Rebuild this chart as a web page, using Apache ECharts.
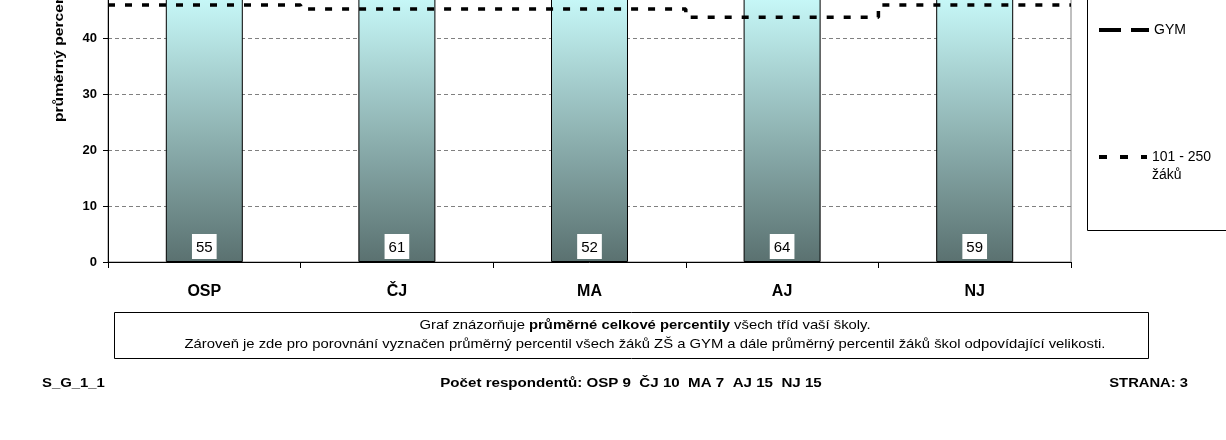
<!DOCTYPE html>
<html>
<head>
<meta charset="utf-8">
<script src="https://cdn.jsdelivr.net/npm/echarts@6/dist/echarts.min.js"></script>
<style>
html,body{margin:0;padding:0;background:#fff;}
#chart{width:1226px;height:440px;}
</style>
</head>
<body>
<div id="chart"></div>
<script>
// ---- data ----
var categories = ['OSP', 'ČJ', 'MA', 'AJ', 'NJ'];
var schoolValues = [55, 61, 52, 64, 59];
var sizeGroupValues = [45.9, 45.2, 45.2, 43.7, 45.9];
var gymValues = [null, null, null, null, null];
var yTicks = {min: 0, max: 100, interval: 10};
var sizeGroupName = '101 - 250 žáků';
var gymName = 'GYM';
var axisTitle = 'průměrný percentil';
var noteLine1Plain = 'Graf znázorňuje ';
var noteLine1Bold = 'průměrné celkové percentily';
var noteLine1End = ' všech tříd vaší školy.';
var noteLine2 = 'Zároveň je zde pro porovnání vyznačen průměrný percentil všech žáků ZŠ a GYM a dále průměrný percentil žáků škol odpovídající velikosti.';
var footerLeft = 'S_G_1_1';
var footerCenter = 'Počet respondentů: OSP 9  ČJ 10  MA 7  AJ 15  NJ 15';
var footerRight = 'STRANA: 3';

function stepData(vals) {
  var out = [];
  for (var i = 0; i < vals.length; i++) {
    out.push([i, vals[i]]);
    out.push([i + 1, vals[i]]);
  }
  return out;
}

var FONT = 'Arial, "Liberation Sans", sans-serif';
var chart = echarts.init(document.getElementById('chart'), null, {renderer: 'canvas'});

var option = {
  animation: false,
  backgroundColor: '#ffffff',
  grid: {
    left: 108, right: 155, top: -298, bottom: 178,
    outerBoundsMode: 'none', containLabel: false,
    show: true, borderColor: '#808080', borderWidth: 1, backgroundColor: 'transparent'
  },
  xAxis: [{
    type: 'category',
    data: categories,
    axisLine: {lineStyle: {color: '#000', width: 1}},
    axisTick: {show: true, length: 6, lineStyle: {color: '#000'}},
    axisLabel: {color: '#000', fontWeight: 'bold', fontSize: 16, fontFamily: FONT, margin: 22},
    splitLine: {show: false}
  }, {
    type: 'value', min: 0, max: categories.length, show: false
  }],
  yAxis: {
    type: 'value',
    min: yTicks.min, max: yTicks.max, interval: yTicks.interval,
    axisLine: {show: true, lineStyle: {color: '#000', width: 1}},
    axisTick: {show: true, length: 5, lineStyle: {color: '#000'}},
    axisLabel: {color: '#000', fontWeight: 'bold', fontSize: 13, fontFamily: FONT, margin: 11},
    splitLine: {show: true, lineStyle: {color: '#808080', type: [4, 3], width: 1}}
  },
  legend: [{
    data: [gymName],
    left: 1097, top: 23, padding: 0,
    itemWidth: 50, itemHeight: 16,
    itemStyle: {color: 'transparent', borderWidth: 0},
    lineStyle: {width: 4, type: [22, 10], color: '#000'},
    textStyle: {color: '#000', fontSize: 14, fontFamily: FONT}
  }, {
    data: [sizeGroupName],
    left: 1097, top: 130, padding: 0,
    itemWidth: 48, itemHeight: 14,
    itemStyle: {color: 'transparent', borderWidth: 0},
    lineStyle: {width: 4, type: [8, 13], color: '#000'},
    formatter: function () { return ' \n101 - 250\nžáků'; },
    textStyle: {color: '#000', fontSize: 14, fontFamily: FONT, lineHeight: 18}
  }],
  series: [{
    type: 'bar',
    name: 'škola',
    data: schoolValues,
    barWidth: 77,
    itemStyle: {
      borderColor: '#000', borderWidth: 1,
      color: new echarts.graphic.LinearGradient(0, 0, 0, 262, [
        {offset: 0, color: '#c6f7f7'},
        {offset: 1, color: '#5a7170'}
      ], true)
    },
    label: {
      show: true, position: 'insideBottom', distance: 3,
      backgroundColor: '#fff', padding: [6, 4, 4, 4],
      color: '#000', fontSize: 15, fontFamily: FONT
    },
    z: 2
  }, {
    type: 'line',
    name: gymName,
    xAxisIndex: 1,
    data: stepData(gymValues),
    symbol: 'none',
    lineStyle: {color: '#000', width: 4, type: [22, 10]},
    itemStyle: {color: '#000'},
    z: 5
  }, {
    type: 'line',
    name: sizeGroupName,
    xAxisIndex: 1,
    data: stepData(sizeGroupValues),
    symbol: 'none',
    lineStyle: {color: '#000', width: 3.5, type: [7, 10]},
    itemStyle: {color: '#000'},
    z: 5
  }],
  graphic: [{
    type: 'text',
    x: 59, y: 122, rotation: Math.PI / 2, scaleX: 1.2,
    style: {text: axisTitle, font: 'bold 13px ' + FONT, fill: '#000', textAlign: 'left', textVerticalAlign: 'middle'}
  }, {
    type: 'rect',
    shape: {x: 1087.5, y: -5, width: 200, height: 235.5},
    style: {fill: 'none', stroke: '#000', lineWidth: 1}
  }, {
    type: 'rect',
    shape: {x: 114.5, y: 312.5, width: 1034, height: 46},
    style: {fill: 'none', stroke: '#000', lineWidth: 1}
  }, {
    type: 'text',
    x: 645, y: 325, scaleX: 1.14,
    style: {
      text: noteLine1Plain + '{b|' + noteLine1Bold + '}' + noteLine1End,
      font: '13px ' + FONT, fill: '#000', textAlign: 'center', textVerticalAlign: 'middle',
      rich: {b: {fontWeight: 'bold', fontSize: 13, fontFamily: FONT}}
    }
  }, {
    type: 'text',
    x: 645, y: 344, scaleX: 1.14,
    style: {text: noteLine2, font: '13px ' + FONT, fill: '#000', textAlign: 'center', textVerticalAlign: 'middle'}
  }, {
    type: 'text',
    x: 42, y: 384, scaleX: 1.24,
    style: {text: footerLeft, font: 'bold 12px ' + FONT, fill: '#000', textAlign: 'left', textVerticalAlign: 'middle'}
  }, {
    type: 'text',
    x: 631, y: 384, scaleX: 1.26,
    style: {text: footerCenter, font: 'bold 12px ' + FONT, fill: '#000', textAlign: 'center', textVerticalAlign: 'middle'}
  }, {
    type: 'text',
    x: 1188, y: 384, scaleX: 1.23,
    style: {text: footerRight, font: 'bold 12px ' + FONT, fill: '#000', textAlign: 'right', textVerticalAlign: 'middle'}
  }]
};
chart.setOption(option);
</script>
</body>
</html>
